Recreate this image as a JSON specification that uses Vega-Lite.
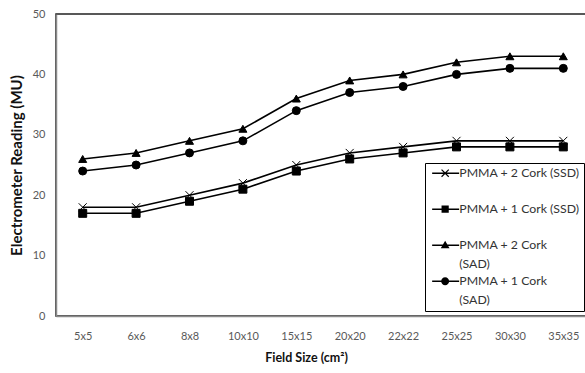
{
  "$schema": "https://vega.github.io/schema/vega-lite/v6.json",
  "width": 534,
  "height": 302,
  "autosize": {"type": "none"},
  "padding": {"left": 56, "top": 14, "right": 0, "bottom": 57},
  "background": "white",
  "config": {
    "view": {"stroke": "#222222", "strokeWidth": 1.5},
    "font": "Lato",
    "style": {"guide-label": {"lineHeight": 19}},
    "axis": {
      "grid": false,
      "ticks": false,
      "domainColor": "#8a8a8a",
      "domainWidth": 1.5,
      "labelFont": "Lato",
      "labelFontSize": 11,
      "labelColor": "#595959",
      "titleFont": "Lato",
      "titleFontWeight": "bold",
      "titleColor": "#111111"
    }
  },
  "data": {
    "values": [
      {"size": "5x5", "series": "PMMA + 2 Cork (SSD)", "val": 18},
      {"size": "6x6", "series": "PMMA + 2 Cork (SSD)", "val": 18},
      {"size": "8x8", "series": "PMMA + 2 Cork (SSD)", "val": 20},
      {"size": "10x10", "series": "PMMA + 2 Cork (SSD)", "val": 22},
      {"size": "15x15", "series": "PMMA + 2 Cork (SSD)", "val": 25},
      {"size": "20x20", "series": "PMMA + 2 Cork (SSD)", "val": 27},
      {"size": "22x22", "series": "PMMA + 2 Cork (SSD)", "val": 28},
      {"size": "25x25", "series": "PMMA + 2 Cork (SSD)", "val": 29},
      {"size": "30x30", "series": "PMMA + 2 Cork (SSD)", "val": 29},
      {"size": "35x35", "series": "PMMA + 2 Cork (SSD)", "val": 29},
      {"size": "5x5", "series": "PMMA + 1 Cork (SSD)", "val": 17},
      {"size": "6x6", "series": "PMMA + 1 Cork (SSD)", "val": 17},
      {"size": "8x8", "series": "PMMA + 1 Cork (SSD)", "val": 19},
      {"size": "10x10", "series": "PMMA + 1 Cork (SSD)", "val": 21},
      {"size": "15x15", "series": "PMMA + 1 Cork (SSD)", "val": 24},
      {"size": "20x20", "series": "PMMA + 1 Cork (SSD)", "val": 26},
      {"size": "22x22", "series": "PMMA + 1 Cork (SSD)", "val": 27},
      {"size": "25x25", "series": "PMMA + 1 Cork (SSD)", "val": 28},
      {"size": "30x30", "series": "PMMA + 1 Cork (SSD)", "val": 28},
      {"size": "35x35", "series": "PMMA + 1 Cork (SSD)", "val": 28},
      {"size": "5x5", "series": "PMMA + 2 Cork (SAD)", "val": 26},
      {"size": "6x6", "series": "PMMA + 2 Cork (SAD)", "val": 27},
      {"size": "8x8", "series": "PMMA + 2 Cork (SAD)", "val": 29},
      {"size": "10x10", "series": "PMMA + 2 Cork (SAD)", "val": 31},
      {"size": "15x15", "series": "PMMA + 2 Cork (SAD)", "val": 36},
      {"size": "20x20", "series": "PMMA + 2 Cork (SAD)", "val": 39},
      {"size": "22x22", "series": "PMMA + 2 Cork (SAD)", "val": 40},
      {"size": "25x25", "series": "PMMA + 2 Cork (SAD)", "val": 42},
      {"size": "30x30", "series": "PMMA + 2 Cork (SAD)", "val": 43},
      {"size": "35x35", "series": "PMMA + 2 Cork (SAD)", "val": 43},
      {"size": "5x5", "series": "PMMA + 1 Cork (SAD)", "val": 24},
      {"size": "6x6", "series": "PMMA + 1 Cork (SAD)", "val": 25},
      {"size": "8x8", "series": "PMMA + 1 Cork (SAD)", "val": 27},
      {"size": "10x10", "series": "PMMA + 1 Cork (SAD)", "val": 29},
      {"size": "15x15", "series": "PMMA + 1 Cork (SAD)", "val": 34},
      {"size": "20x20", "series": "PMMA + 1 Cork (SAD)", "val": 37},
      {"size": "22x22", "series": "PMMA + 1 Cork (SAD)", "val": 38},
      {"size": "25x25", "series": "PMMA + 1 Cork (SAD)", "val": 40},
      {"size": "30x30", "series": "PMMA + 1 Cork (SAD)", "val": 41},
      {"size": "35x35", "series": "PMMA + 1 Cork (SAD)", "val": 41}
    ]
  },
  "encoding": {
    "x": {
      "field": "size",
      "type": "ordinal",
      "sort": ["5x5", "6x6", "8x8", "10x10", "15x15", "20x20", "22x22", "25x25", "30x30", "35x35"],
      "scale": {"type": "point", "padding": 0.5},
      "axis": {"title": "Field Size (cm²)", "labelAngle": 0, "labelPadding": 14, "titlePadding": 10, "titleFontSize": 12.5, "titleX": 250}
    },
    "y": {
      "field": "val",
      "type": "quantitative",
      "scale": {"domain": [0, 50]},
      "axis": {"title": "Electrometer Reading (MU)", "values": [0, 10, 20, 30, 40, 50], "labelPadding": 11, "titlePadding": 8, "titleFontSize": 15}
    }
  },
  "layer": [
    {
      "mark": {"type": "line", "strokeWidth": 1.6, "color": "black"},
      "encoding": {"detail": {"field": "series"}}
    },
    {
      "mark": {"type": "point", "filled": true, "size": 64, "fill": "black", "stroke": "black", "strokeWidth": 1, "opacity": 1},
      "encoding": {
        "shape": {
          "field": "series",
          "type": "nominal",
          "scale": {
            "domain": ["PMMA + 2 Cork (SSD)", "PMMA + 1 Cork (SSD)", "PMMA + 2 Cork (SAD)", "PMMA + 1 Cork (SAD)"],
            "range": ["M-1,-1L1,1M1,-1L-1,1", "square", "triangle-up", "circle"]
          },
          "legend": null
        }
      }
    },
    {
      "mark": {"type": "point", "filled": true, "size": 64, "fill": "black", "opacity": 0},
      "encoding": {
        "shape": {
          "field": "series",
          "type": "nominal",
          "scale": {
            "domain": ["PMMA + 2 Cork (SSD)", "PMMA + 1 Cork (SSD)", "PMMA + 2 Cork (SAD)", "PMMA + 1 Cork (SAD)"],
            "range": [
              "M-0.75,-0.19L6,-0.19L6,0.19L-0.75,0.19ZM1.706,-1.006L3.506,0.794L3.294,1.006L1.494,-0.794ZM3.506,-0.794L1.706,1.006L1.494,0.794L3.294,-1.006Z",
              "M-0.75,-0.19L6,-0.19L6,0.19L-0.75,0.19ZM1.6,-0.9L3.4,-0.9L3.4,0.9L1.6,0.9Z",
              "M-0.75,-0.19L6,-0.19L6,0.19L-0.75,0.19ZM2.5,-1.1L3.6,0.8L1.4,0.8Z",
              "M-0.75,-0.19L6,-0.19L6,0.19L-0.75,0.19ZM3.5,0A1,1,0,1,1,1.5,0A1,1,0,1,1,3.5,0Z"
            ]
          },
          "legend": {
            "title": null,
            "orient": "none",
            "legendX": 369,
            "legendY": 149,
            "symbolSize": 64,
            "symbolOpacity": 1,
            "symbolFillColor": "black",
            "symbolStrokeWidth": 0,
            "labelColor": "#333333",
            "labelOffset": 18,
            "labelFont": "Lato",
            "labelFontSize": 12.3,
            "labelLimit": 300,
            "labelExpr": "datum.label == 'PMMA + 2 Cork (SAD)' ? ['PMMA + 2 Cork', '(SAD)'] : datum.label == 'PMMA + 1 Cork (SAD)' ? ['PMMA + 1 Cork', '(SAD)'] : [datum.label, '']",
            "strokeColor": "black",
            "fillColor": "white",
            "padding": 4,
            "rowPadding": 4
          }
        }
      }
    }
  ],
  "resolve": {"scale": {"shape": "independent"}}
}
